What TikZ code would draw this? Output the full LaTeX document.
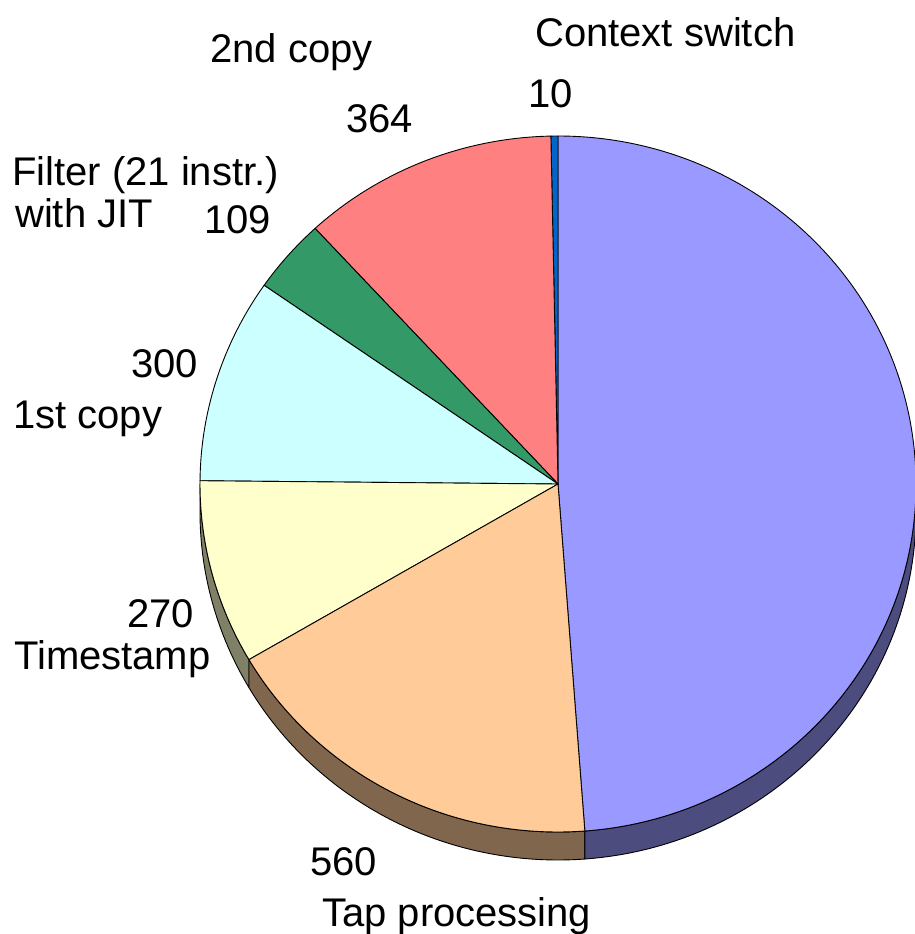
\documentclass[tikz,border=0pt]{standalone}
\usepackage{fontspec}
\setmainfont{Liberation Sans}
\usetikzlibrary{calc}

% slice colours (top face) and their darker side walls
\definecolor{cswitch}{HTML}{0066CC}
\definecolor{copytwo}{HTML}{FF8080}
\definecolor{filterjit}{HTML}{339966}
\definecolor{copyone}{HTML}{CCFFFF}
\definecolor{tstamp}{HTML}{FFFFCC}
\definecolor{tapproc}{HTML}{FFCC99}
\definecolor{rest}{HTML}{9999FF}
\definecolor{tstampside}{HTML}{808066}
\definecolor{tapprocside}{HTML}{7F664C}
\definecolor{restside}{HTML}{4C4C7F}

\tikzset{
  slicestyle/.style={draw=black, line width=0.9pt, line join=round},
  lbl/.style={inner sep=0pt, anchor=base west, font=\fontsize{40}{46}\selectfont},
}

% top face of one slice: start angle, end angle, colour
\newcommand\pietop[3]{%
  \filldraw[slicestyle, fill=#3] (C) -- ($(C)+(#1:358pt and 348pt)$)
    arc[start angle=#1, end angle=#2, x radius=358pt, y radius=348pt] -- cycle;}
% side wall under one slice: start angle, end angle, colour
\newcommand\pieside[3]{%
  \filldraw[slicestyle, fill=#3] ($(C)+(#1:358pt and 348pt)$)
    arc[start angle=#1, end angle=#2, x radius=358pt, y radius=348pt]
    -- ++(0,-28pt)
    arc[start angle=#2, end angle=#1, x radius=358pt, y radius=348pt] -- cycle;}

\begin{document}
\begin{tikzpicture}[x=1pt, y=1pt]
  \useasboundingbox (0,0) rectangle (915,-934);
  \coordinate (C) at (558,-484);

  % side walls of the lower half
  \pieside{180}{210.31}{tstampside}
  \pieside{210.31}{274.3}{tapprocside}
  \pieside{274.3}{360}{restside}

  % top faces
  \pietop{-85.7}{90}{rest}
  \pietop{90}{91.14}{cswitch}
  \pietop{91.14}{132.73}{copytwo}
  \pietop{132.73}{145.18}{filterjit}
  \pietop{145.18}{179.46}{copyone}
  \pietop{179.46}{210.31}{tstamp}
  \pietop{210.31}{274.3}{tapproc}

  % category names and values
  \node[lbl] (cs)   at (535,-47)  {Context switch};
  \node[lbl] (csv)  at (528,-107) {10};
  \node[lbl] (c2)   at (210,-63)  {2nd copy};
  \node[lbl] (c2v)  at (346,-132) {364};
  \node[lbl] (fl)   at (12,-185)  {Filter (21 instr.)};
  \node[lbl] (fl2)  at (15,-227)  {with JIT};
  \node[lbl] (flv)  at (204,-233) {109};
  \node[lbl] (c1v)  at (131,-377) {300};
  \node[lbl] (c1)   at (13,-428)  {1st copy};
  \node[lbl] (tsv)  at (127,-627) {270};
  \node[lbl] (ts)   at (14,-669)  {Timestamp};
  \node[lbl] (tpv)  at (310,-875) {560};
  \node[lbl] (tp)   at (322,-926) {Tap processing};
\end{tikzpicture}
\end{document}
